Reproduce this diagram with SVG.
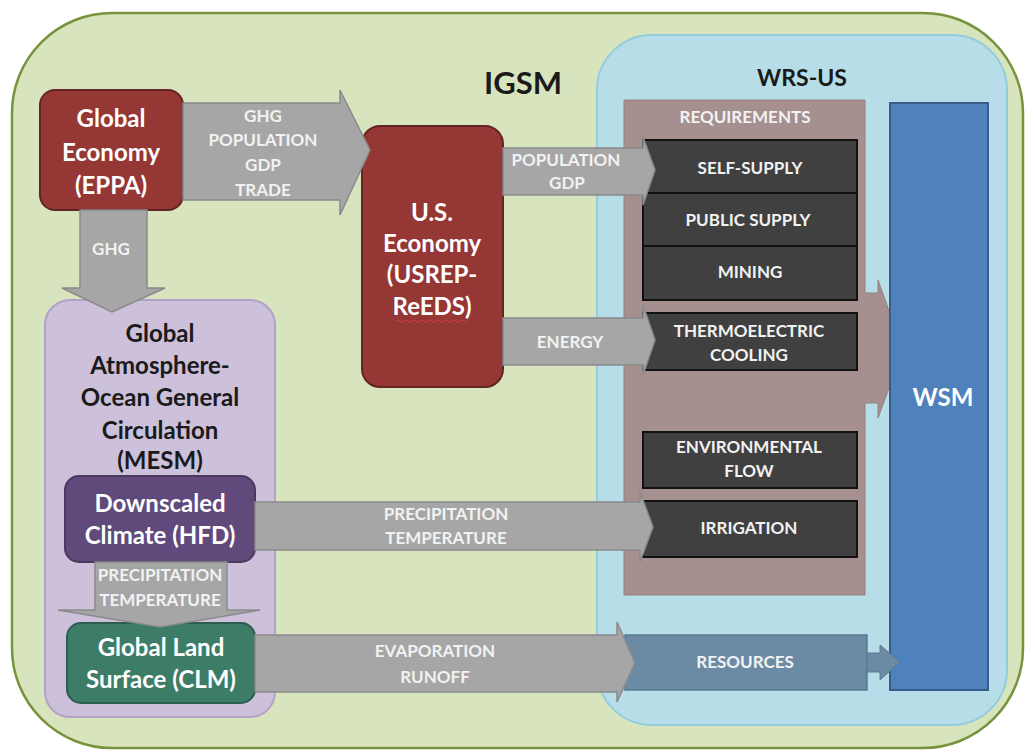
<svg xmlns="http://www.w3.org/2000/svg" width="1028" height="750" viewBox="0 0 1028 750">
<style>
text{font-family:"Lato","Open Sans","Liberation Sans",sans-serif;font-weight:bold;text-anchor:middle}
.big{font-size:24px;fill:#ffffff}
.dark{font-size:24px;fill:#1a1a1a}
.lbl{font-size:17px;fill:#f2f2f2}
.box{font-size:17px;fill:#f2f2f2}
.arrow{fill:#a6a6a6;stroke:#8a8a8a;stroke-width:1.5}
.req{fill:#404040;stroke:#111111;stroke-width:2}
</style>
<rect width="1028" height="750" fill="#ffffff"/>
<g id="igsm">
<rect x="12" y="13" width="1011" height="735" rx="100" fill="#d7e4bd" stroke="#77933c" stroke-width="2.5"/>
<text x="523" y="94" style="font-size:31px;fill:#1a1a1a">IGSM</text>
</g>
<g id="wrs-us">
<rect x="597" y="35" width="410" height="690" rx="55" fill="#b7dee8" stroke="#93cddd" stroke-width="2"/>
<text x="802" y="86" class="dark" style="font-size:23px">WRS-US</text>
</g>
<g id="requirements">
<path d="M624,100 H865 V293 H878 V280 L903,350 L878,418 V403 H865 V595 H624 Z" fill="#a5908f" stroke="#948080" stroke-width="1"/>
<text x="745" y="123" class="box">REQUIREMENTS</text>
</g>
<g id="wsm">
<rect x="890" y="103" width="98" height="587" fill="#4f81bd" stroke="#385d8a" stroke-width="2"/>
<text x="943" y="406" class="big">WSM</text>
</g>
<g id="atmosphere">
<rect x="45" y="300" width="230" height="417" rx="25" fill="#ccc0da" stroke="#b3a2c7" stroke-width="2"/>
<text x="160" y="342" class="dark">Global</text>
<text x="160" y="374" class="dark">Atmosphere-</text>
<text x="160" y="406" class="dark">Ocean General</text>
<text x="160" y="439" class="dark">Circulation</text>
<text x="160" y="469" class="dark">(MESM)</text>
</g>
<g id="eppa">
<rect x="40" y="90" width="143" height="120" rx="15" fill="#953735" stroke="#632523" stroke-width="2"/>
<text x="111" y="127" class="big">Global</text>
<text x="111" y="161" class="big">Economy</text>
<text x="111" y="194" class="big">(EPPA)</text>
</g>
<g id="usrep">
<rect x="362" y="126" width="141" height="261" rx="18" fill="#953735" stroke="#632523" stroke-width="2"/>
<text x="432" y="221" class="big">U.S.</text>
<text x="432" y="252" class="big">Economy</text>
<text x="432" y="283" class="big">(USREP-</text>
<text x="432" y="315" class="big">ReEDS)</text>
<path d="M396,321 q2,-2 4,0 t4,0 t4,0 t4,0 t4,0 t4,0 t4,0 t4,0 t4,0 t4,0 t4,0 t4,0 t4,0 t4,0 t4,0 t4,0 t4,0 t4,0" fill="none" stroke="#d04040" stroke-width="1"/>
</g>
<g id="hfd">
<rect x="65" y="476" width="190" height="86" rx="14" fill="#604a7b" stroke="#4a3860" stroke-width="2"/>
<text x="160" y="512" class="big">Downscaled</text>
<text x="160" y="544" class="big">Climate (HFD)</text>
</g>
<g id="clm">
<rect x="67" y="623" width="188" height="80" rx="14" fill="#3d7d68" stroke="#2c5e4e" stroke-width="2"/>
<text x="161" y="656" class="big">Global Land</text>
<text x="161" y="688" class="big">Surface (CLM)</text>
</g>
<g id="self-supply"><rect x="643" y="140" width="214" height="53" class="req"/><text x="750" y="174" class="box">SELF-SUPPLY</text></g>
<g id="public-supply"><rect x="643" y="193" width="214" height="53" class="req"/><text x="748" y="226" class="box">PUBLIC SUPPLY</text></g>
<g id="mining"><rect x="643" y="246" width="214" height="54" class="req"/><text x="750" y="278" class="box">MINING</text></g>
<g id="thermoelectric"><rect x="643" y="313" width="214" height="57" class="req"/><text x="749" y="337" class="box">THERMOELECTRIC</text><text x="749" y="361" class="box">COOLING</text></g>
<g id="environmental"><rect x="643" y="432" width="214" height="56" class="req"/><text x="749" y="453" class="box">ENVIRONMENTAL</text><text x="749" y="477" class="box">FLOW</text></g>
<g id="irrigation"><rect x="643" y="501" width="214" height="56" class="req"/><text x="749" y="534" class="box">IRRIGATION</text></g>
<g id="resources">
<rect x="625" y="635" width="242" height="55" fill="#6b8ba5" stroke="#5a7890" stroke-width="1.5"/>
<text x="745" y="668" class="box">RESOURCES</text>
</g>
<g id="connectors">
<path class="arrow" d="M183,103 H340 V90 L370,150 L340,215 V200 H183 Z"/>
<text x="263" y="122" class="lbl">GHG</text>
<text x="263" y="146" class="lbl">POPULATION</text>
<text x="263" y="171" class="lbl">GDP</text>
<text x="263" y="196" class="lbl">TRADE</text>
<path class="arrow" d="M80,210 H147 V288 H165 L112,312 L62,288 H80 Z"/>
<text x="111" y="255" class="lbl">GHG</text>
<path class="arrow" d="M503,148 H643 V137 L655,170 L643,205 V195 H503 Z"/>
<text x="566" y="166" class="lbl">POPULATION</text>
<text x="567" y="189" class="lbl">GDP</text>
<path class="arrow" d="M503,318 H643 V305 L655,340 L643,375 V365 H503 Z"/>
<text x="570" y="348" class="lbl">ENERGY</text>
<path class="arrow" d="M255,502 H640 V492 L653,527 L640,562 V550 H255 Z"/>
<text x="446" y="520" class="lbl">PRECIPITATION</text>
<text x="446" y="544" class="lbl">TEMPERATURE</text>
<path class="arrow" d="M95,562 H227 V610 H260 L160,627 L58,610 H95 Z"/>
<text x="160" y="581" class="lbl">PRECIPITATION</text>
<text x="160" y="606" class="lbl">TEMPERATURE</text>
<path class="arrow" d="M255,635 H617 V622 L635,663 L617,702 V692 H255 Z"/>
<text x="435" y="657" class="lbl">EVAPORATION</text>
<text x="435" y="683" class="lbl">RUNOFF</text>
<path d="M867,653 H880 V645 L900,662 L880,680 V672 H867 Z" fill="#6b8ba5" stroke="#5a7890" stroke-width="1"/>
</g>
</svg>
